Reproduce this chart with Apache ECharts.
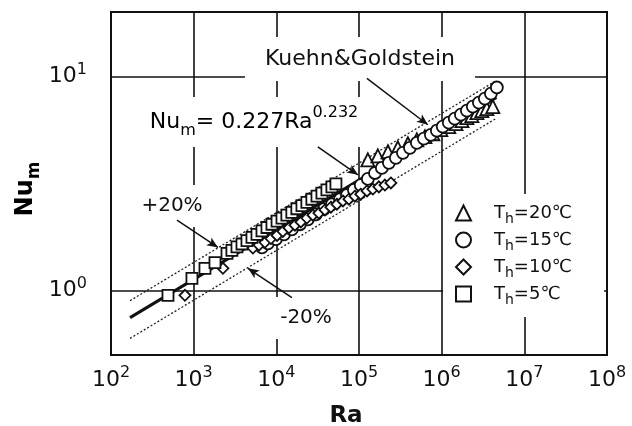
<!DOCTYPE html>
<html>
<head>
<meta charset="utf-8">
<script src="https://cdn.jsdelivr.net/npm/echarts@6/dist/echarts.min.js"></script>
<style>
  html, body { margin: 0; padding: 0; background: #fff; }
  #chart { width: 632px; height: 426px; }
</style>
</head>
<body>
<div id="chart"></div>
<script>
// Mean Nusselt number against Rayleigh number for four hot-wall temperatures.
const xTickExponents = [2, 3, 4, 5, 6, 7, 8];
const yTickExponents = [0, 1];
const seriesTemps = ['20℃', '15℃', '10℃', '5℃'];

// [Ra, Nu_m]
const th20 = [[128000,4.08],[169000,4.26],[224000,4.45],[295000,4.64],[390000,4.85],[501000,5.06],[627000,5.23],[783000,5.40],[978000,5.64],[1220000,5.83],[1490000,6.02],[1760000,6.22],[2020000,6.42],[2320000,6.56],[2670000,6.78],[3060000,6.92],[3520000,7.08],[4160000,7.23]];
const th15 = [[6700,1.59],[7910,1.66],[9890,1.74],[12400,1.83],[15400,1.93],[19300,2.04],[24100,2.15],[30100,2.27],[37600,2.40],[47000,2.53],[58800,2.67],[71400,2.79],[86800,2.95],[105000,3.11],[128000,3.32],[156000,3.54],[189000,3.74],[230000,3.95],[279000,4.17],[340000,4.40],[413000,4.64],[501000,4.90],[609000,5.12],[740000,5.34],[875000,5.58],[1030000,5.83],[1220000,6.08],[1440000,6.35],[1710000,6.63],[2020000,6.92],[2380000,7.23],[2820000,7.55],[3330000,7.88],[3940000,8.32],[4650000,8.88]];
const th10 = [[785,0.95],[2260,1.27],[5210,1.58],[6160,1.63],[7280,1.68],[8600,1.75],[10200,1.81],[12000,1.89],[14200,1.96],[16800,2.02],[19800,2.09],[23400,2.18],[27700,2.25],[32700,2.30],[38700,2.38],[45700,2.45],[54000,2.53],[63900,2.62],[75500,2.67],[89200,2.76],[105000,2.82],[125000,2.92],[147000,2.98],[174000,3.05],[206000,3.11],[243000,3.18]];
const th5 = [[489,0.95],[953,1.14],[1370,1.27],[1810,1.35],[2530,1.49],[2900,1.54],[3340,1.60],[3840,1.65],[4410,1.71],[5070,1.77],[5830,1.83],[6700,1.90],[7700,1.97],[8850,2.04],[10200,2.11],[11700,2.18],[13400,2.25],[15400,2.32],[17700,2.41],[20400,2.49],[23400,2.58],[26900,2.67],[31000,2.76],[35600,2.85],[40900,2.95],[47000,3.05],[52600,3.15]];

// Correlation Nu_m = 0.227 Ra^0.232 and its +-20% band
const fitCoef = 0.227;
const fitExp = 0.232;
const fitRaRange = [170, 4.6e6];
const bandFactors = [1.2, 0.8];

// Leader arrows: [from, to] in [Ra, Nu_m]
const arrowFit = [[31800, 4.69], [97000, 3.47]];
const arrowKG = [[124600, 9.79], [680700, 5.95]];
const arrowPlus = [[628, 2.13], [1968, 1.59]];
const arrowMinus = [[15440, 0.927], [4536, 1.27]];

const FONT = '"DejaVu Sans", Verdana, sans-serif';
const INK = '#111';

const fitLine = (k) => fitRaRange.map(ra => [ra, k * fitCoef * Math.pow(ra, fitExp)]);

function powLabel(v, exps) {
  const e = Math.round(Math.log10(v));
  if (Math.abs(Math.log10(v) - e) > 1e-6 || exps.indexOf(e) < 0) return '';
  return '{b|10}{s|' + e + '}';
}

const tickRich = {
  b: { fontSize: 22, lineHeight: 30, fontFamily: FONT, color: INK },
  s: { fontSize: 16, lineHeight: 16, verticalAlign: 'top', fontFamily: FONT, color: INK }
};

const markerStyle = { color: '#fff', borderColor: INK, borderWidth: 1.8, opacity: 1 };

function scatter(name, data, symbol, size) {
  return {
    name, type: 'scatter', data, symbol, symbolSize: size,
    itemStyle: markerStyle, z: 3, animation: false
  };
}

const arrowPair = (a) => [{ coord: a[0] }, { coord: a[1] }];

const chart = echarts.init(document.getElementById('chart'), null, { renderer: 'canvas' });

chart.setOption({
  backgroundColor: '#fff',
  animation: false,
  grid: { left: 111, right: 25, top: 12, bottom: 71, show: true, borderColor: INK, borderWidth: 2, backgroundColor: 'transparent' },
  xAxis: {
    type: 'log', logBase: 10, min: 1e2, max: 1e8,
    axisLine: { show: false },
    axisTick: { show: false },
    splitLine: { show: true, lineStyle: { color: INK, width: 1.6 } },
    axisLabel: {
      margin: 10, formatter: v => powLabel(v, xTickExponents), rich: tickRich
    }
  },
  yAxis: {
    type: 'log', logBase: 10, min: 0.5, max: 20,
    axisLine: { show: false },
    axisTick: { show: false },
    splitLine: { show: true, lineStyle: { color: INK, width: 1.6 } },
    axisLabel: {
      margin: 24, formatter: v => powLabel(v, yTickExponents), rich: tickRich
    }
  },
  legend: {
    orient: 'vertical', left: 443, top: 194,
    padding: [10, 32, 10, 12], backgroundColor: '#fff',
    itemWidth: 15, itemHeight: 15, itemGap: 5,
    data: seriesTemps,
    formatter: name => '{t|T}{h|h}{t|=' + name + '}',
    textStyle: {
      padding: [0, 0, 0, 18],
      rich: {
        t: { fontSize: 18, lineHeight: 26, fontFamily: FONT, color: INK },
        h: { fontSize: 14, lineHeight: 14, verticalAlign: 'bottom', fontFamily: FONT, color: INK }
      }
    }
  },
  graphic: [
    { type: 'text', x: 360, y: 59, z: 1,
      style: { text: 'Kuehn&Goldstein', font: '22px ' + FONT, fill: INK, align: 'center', verticalAlign: 'middle',
               backgroundColor: '#fff', padding: [11, 20, 11, 20] } },
    { type: 'text', x: 254, y: 122, z: 1,
      style: { text: '{n|Nu}{m|m}{n|= 0.227Ra}{e|0.232}', align: 'center', verticalAlign: 'middle',
               backgroundColor: '#fff', padding: [8, 14, 8, 14],
               rich: {
                 n: { fontSize: 22, lineHeight: 34, fontFamily: FONT, color: INK },
                 m: { fontSize: 16, lineHeight: 16, verticalAlign: 'bottom', fontFamily: FONT, color: INK },
                 e: { fontSize: 16, lineHeight: 20, verticalAlign: 'top', fontFamily: FONT, color: INK }
               } } },
    { type: 'text', x: 172, y: 206, z: 1,
      style: { text: '+20%', font: '20px ' + FONT, fill: INK, align: 'center', verticalAlign: 'middle',
               backgroundColor: '#fff', padding: [11, 8, 11, 8] } },
    { type: 'text', x: 306, y: 318, z: 1,
      style: { text: '-20%', font: '20px ' + FONT, fill: INK, align: 'center', verticalAlign: 'middle',
               backgroundColor: '#fff', padding: [11, 10, 11, 10] } },
    { type: 'text', x: 346, y: 416, z: 1,
      style: { text: 'Ra', font: 'bold 23px ' + FONT, fill: INK, align: 'center', verticalAlign: 'middle' } },
    { type: 'text', x: 26, y: 189, z: 1, rotation: Math.PI / 2,
      style: { text: '{n|Nu}{m|m}', align: 'center', verticalAlign: 'middle',
               rich: {
                 n: { fontSize: 24, lineHeight: 34, fontWeight: 'bold', fontFamily: FONT, color: INK },
                 m: { fontSize: 17, lineHeight: 17, verticalAlign: 'bottom', fontWeight: 'bold', fontFamily: FONT, color: INK }
               } } }
  ],
  series: [
    { name: 'fit', type: 'line', data: fitLine(1), showSymbol: false, z: 2,
      lineStyle: { color: INK, width: 3 }, silent: true },
    { name: 'fit+20', type: 'line', data: fitLine(bandFactors[0]), showSymbol: false, z: 2,
      lineStyle: { color: '#222', width: 1.3, type: [2, 2] }, silent: true },
    { name: 'fit-20', type: 'line', data: fitLine(bandFactors[1]), showSymbol: false, z: 2,
      lineStyle: { color: '#222', width: 1.3, type: [2, 2] }, silent: true },
    scatter(seriesTemps[0], th20, 'triangle', 13),
    scatter(seriesTemps[1], th15, 'circle', 12),
    scatter(seriesTemps[2], th10, 'diamond', 11),
    scatter(seriesTemps[3], th5, 'rect', 11),
    { name: 'arrows', type: 'line', data: [], z: 4, silent: true,
      markLine: {
        silent: true, animation: false,
        symbol: ['none', 'arrow'], symbolSize: [7, 11],
        label: { show: false },
        lineStyle: { color: INK, width: 1.5, type: 'solid' },
        data: [arrowPair(arrowFit), arrowPair(arrowKG), arrowPair(arrowPlus), arrowPair(arrowMinus)]
      } }
  ]
});
</script>
</body>
</html>
